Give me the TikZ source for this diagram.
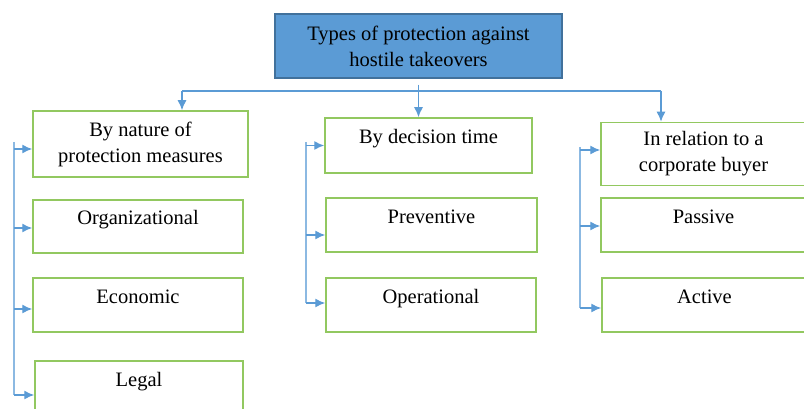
\documentclass[tikz,border=0pt]{standalone}
\usepackage{fontspec}
\setmainfont{Liberation Serif}
\usetikzlibrary{arrows.meta}
\definecolor{boxgreen}{RGB}{146,200,96}
\definecolor{linkblue}{RGB}{91,155,213}
\definecolor{headedge}{RGB}{65,113,156}
\begin{document}
\begin{tikzpicture}[x=1pt, y=-1pt, every node/.style={font=\fontsize{20.5}{26}\selectfont},
    bx/.style={draw=boxgreen, line width=1.5pt, fill=white, inner sep=0pt, align=center},
    hd/.style={draw=headedge, line width=1.5pt, fill=linkblue, inner sep=0pt, align=center},
    one/.style={text height=14pt, text depth=18pt},
    ln/.style={draw=linkblue, line width=1.4pt},
    sp/.style={draw=linkblue!70, line width=2pt},
    ar/.style={ln, -{Latex[length=10pt, width=9pt]}}]
\useasboundingbox (0,0) rectangle (804,409);
% head
\node[hd, minimum width=287, minimum height=64] (top) at (418.5,46) {Types of protection against\\hostile takeovers};
% left column
\node[bx, minimum width=215, minimum height=66] (nature) at (140.5,144) {By nature of\\protection measures};
\node[bx, one, minimum width=210, minimum height=53] (org) at (138,226.5) {Organizational};
\node[bx, one, minimum width=210, minimum height=54] (econ) at (138,305) {Economic};
\node[bx, one, minimum width=208, minimum height=54] (legal) at (139,388) {Legal};
% middle column
\node[bx, one, minimum width=207, minimum height=55] (time) at (428.5,145.5) {By decision time};
\node[bx, one, minimum width=211, minimum height=54] (prev) at (431.5,225) {Preventive};
\node[bx, one, minimum width=210, minimum height=54] (oper) at (431,305) {Operational};
% right column
\node[bx, minimum width=205, minimum height=63] (buyer) at (703.5,154) {In relation to a\\corporate buyer};
\node[bx, one, minimum width=205, minimum height=54] (pas) at (703.5,225) {Passive};
\node[bx, one, minimum width=205, minimum height=54] (act) at (704.5,305) {Active};
% bus from the head
\coordinate (busL) at (182,91);
\coordinate (busR) at (661,91);
\draw[ln] (busL) -- (busR);
\draw[ar] (busL) -- (busL |- nature.north);
\draw[ar] ([yshift=-6pt]top.south) -- (top.south |- time.north);
\draw[ar] (busR) -- (busR |- buyer.north);
% spines
\coordinate (spL) at (14,142);
\coordinate (spM) at (306,142);
\coordinate (spR) at (580,147);
\draw[sp] (spL) -- ([yshift=-7pt]legal.west -| spL);
\draw[sp] (spM) -- ([yshift=2pt]oper.west -| spM);
\draw[sp] (spR) -- ([yshift=-3pt]act.west -| spR);
\foreach \b/\dy in {nature/-5, org/-1.5, econ/-4, legal/-7} {
    \draw[ar] ([yshift=\dy pt]\b.west -| spL) -- ([yshift=\dy pt]\b.west);
}
\foreach \b/\dy in {time/0, prev/-10, oper/2} {
    \draw[ar] ([yshift=\dy pt]\b.west -| spM) -- ([yshift=\dy pt]\b.west);
}
\foreach \b/\dy in {buyer/4, pas/-1, act/-3} {
    \draw[ar] ([yshift=\dy pt]\b.west -| spR) -- ([yshift=\dy pt]\b.west);
}
\end{tikzpicture}
\end{document}
